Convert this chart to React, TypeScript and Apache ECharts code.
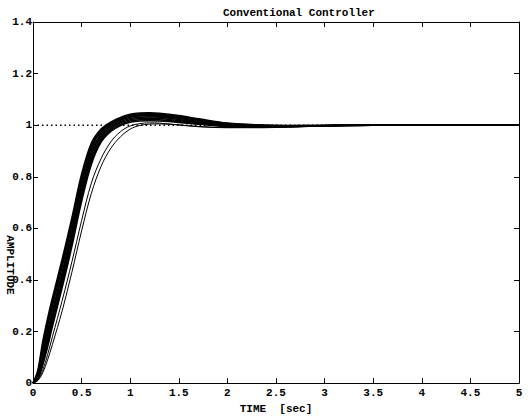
import React, { useEffect, useRef } from "react";
import * as echarts from "echarts";

const TITLE = "Conventional Controller";
const X_NAME = "TIME  [sec]";
const Y_NAME = "AMPLITUDE";

const TIME = [0, 0.05, 0.1, 0.15, 0.2, 0.3, 0.4, 0.5, 0.6, 0.7, 0.8, 0.9, 1.0, 1.1, 1.2, 1.3, 1.5, 1.7, 2.0, 2.3, 2.6, 3.0, 3.5, 4.0, 5.0];

// main band of responses (fastest to slowest)
const C1 = [0, 0.05, 0.16, 0.25, 0.33, 0.48, 0.64, 0.81, 0.93, 0.985, 1.012, 1.03, 1.042, 1.047, 1.048, 1.046, 1.037, 1.025, 1.008, 1.001, 0.999, 0.999, 1, 1, 1];
const C2 = [0, 0.043, 0.145, 0.235, 0.315, 0.465, 0.625, 0.795, 0.92, 0.98, 1.009, 1.027, 1.039, 1.044, 1.045, 1.043, 1.034, 1.022, 1.006, 1.0, 0.998, 0.999, 1, 1, 1];
const C3 = [0, 0.037, 0.13, 0.22, 0.3, 0.45, 0.61, 0.78, 0.91, 0.974, 1.005, 1.023, 1.035, 1.04, 1.041, 1.039, 1.03, 1.019, 1.004, 0.998, 0.997, 0.999, 1, 1, 1];
const C4 = [0, 0.032, 0.117, 0.2, 0.28, 0.43, 0.59, 0.765, 0.897, 0.966, 1.0, 1.019, 1.031, 1.036, 1.037, 1.035, 1.026, 1.015, 1.002, 0.996, 0.996, 0.999, 1, 1, 1];
const C5 = [0, 0.027, 0.104, 0.185, 0.265, 0.415, 0.575, 0.75, 0.885, 0.958, 0.994, 1.014, 1.026, 1.031, 1.032, 1.031, 1.022, 1.012, 1.0, 0.994, 0.995, 0.998, 1, 1, 1];
const C6 = [0, 0.023, 0.092, 0.17, 0.25, 0.4, 0.56, 0.735, 0.872, 0.95, 0.988, 1.009, 1.021, 1.026, 1.027, 1.026, 1.018, 1.009, 0.998, 0.993, 0.994, 0.998, 1, 1, 1];
const C7 = [0, 0.019, 0.08, 0.155, 0.235, 0.385, 0.545, 0.72, 0.86, 0.942, 0.982, 1.004, 1.016, 1.021, 1.022, 1.021, 1.014, 1.006, 0.996, 0.992, 0.994, 0.998, 1, 1, 1];
const C8 = [0, 0.016, 0.07, 0.14, 0.22, 0.37, 0.53, 0.705, 0.848, 0.934, 0.976, 0.999, 1.011, 1.016, 1.017, 1.016, 1.011, 1.004, 0.994, 0.991, 0.993, 0.998, 1, 1, 1];
// two slower responses
const S1 = [0, 0.012, 0.05, 0.11, 0.18, 0.32, 0.47, 0.63, 0.775, 0.87, 0.935, 0.975, 0.997, 1.006, 1.009, 1.008, 1.001, 0.994, 0.99, 0.991, 0.995, 0.998, 1, 1, 1];
const S2 = [0, 0.01, 0.04, 0.09, 0.15, 0.28, 0.43, 0.59, 0.735, 0.84, 0.91, 0.955, 0.985, 0.999, 1.004, 1.005, 1.001, 0.995, 0.991, 0.992, 0.995, 0.998, 1, 1, 1];

const BAND = [C1, C2, C3, C4, C5, C6, C7, C8];
const SLOW = [S1, S2];

const REF_X = [0, 5];
const REF_Y = [1, 1];

const X_TICKS = [0, 0.5, 1, 1.5, 2, 2.5, 3, 3.5, 4, 4.5, 5];
const Y_TICKS = [0, 0.2, 0.4, 0.6, 0.8, 1, 1.2, 1.4];

const FONT = "'Liberation Mono', 'Courier New', monospace";

export default function App() {
  const ref = useRef<HTMLDivElement>(null);
  useEffect(() => {
    document.body.style.margin = "0";
    document.body.style.overflow = "hidden";
    if (!ref.current) return;
    const chart = echarts.init(ref.current, null, { renderer: "svg", width: 528, height: 419 });
    const labelStyle = { fontFamily: FONT, fontWeight: "bold" as const, fontSize: 11, color: "#000" };
    const pair = (ys: number[]) => TIME.map((t, i) => [t, ys[i]]);
    const series: any[] = [
      {
        type: "line",
        data: REF_X.map((x, i) => [x, REF_Y[i]]),
        showSymbol: false,
        silent: true,
        z: 1,
        lineStyle: { color: "#000", width: 1.5, type: [1.5, 3] },
      },
      ...BAND.map((ys) => ({
        type: "line",
        data: pair(ys),
        smooth: 0.35,
        showSymbol: false,
        silent: true,
        z: 3,
        lineStyle: { color: "#000", width: 1.6 },
      })),
      ...SLOW.map((ys) => ({
        type: "line",
        data: pair(ys),
        smooth: 0.35,
        showSymbol: false,
        silent: true,
        z: 2,
        lineStyle: { color: "#000", width: 1 },
      })),
    ];
    const xBase = {
      type: "value",
      min: X_TICKS[0],
      max: X_TICKS[X_TICKS.length - 1],
      interval: 0.5,
      axisLine: { show: true, onZero: false, lineStyle: { color: "#000", width: 1 } },
      axisTick: { show: true, inside: true, length: 5, lineStyle: { color: "#000" } },
      splitLine: { show: false },
    };
    const yBase = {
      type: "value",
      min: Y_TICKS[0],
      max: Y_TICKS[Y_TICKS.length - 1],
      interval: 0.2,
      axisLine: { show: true, onZero: false, lineStyle: { color: "#000", width: 1 } },
      axisTick: { show: true, inside: true, length: 5, lineStyle: { color: "#000" } },
      splitLine: { show: false },
    };
    chart.setOption({
      animation: false,
      backgroundColor: "#fff",
      title: {
        text: TITLE,
        left: 218,
        top: 2,
        textStyle: { ...labelStyle, fontSize: 11 },
      },
      grid: { left: 33, right: 9, top: 22, bottom: 31, containLabel: false },
      xAxis: [
        {
          ...xBase,
          position: "bottom",
          name: X_NAME,
          nameLocation: "middle",
          nameGap: 17,
          nameTextStyle: { ...labelStyle },
          axisLabel: {
            ...labelStyle,
            margin: 4,
            formatter: (v: number) => String(parseFloat(v.toFixed(2))),
          },
        },
        { ...xBase, position: "top", axisLabel: { show: false } },
      ],
      yAxis: [
        {
          ...yBase,
          position: "left",
          axisLabel: {
            ...labelStyle,
            margin: 1,
            formatter: (v: number) => String(parseFloat(v.toFixed(2))),
          },
        },
        { ...yBase, position: "right", axisLabel: { show: false } },
      ],
      graphic: [
        {
          type: "text",
          x: 10,
          y: 265,
          rotation: -Math.PI / 2,
          style: {
            text: Y_NAME,
            font: `bold 11px ${FONT}`,
            fill: "#000",
            align: "center",
            verticalAlign: "middle",
          },
          z: 10,
        },
      ],
      series,
    });
    return () => chart.dispose();
  }, []);
  return (
    <div
      ref={ref}
      style={{ position: "fixed", left: 0, top: 0, width: 528, height: 419 }}
    />
  );
}
